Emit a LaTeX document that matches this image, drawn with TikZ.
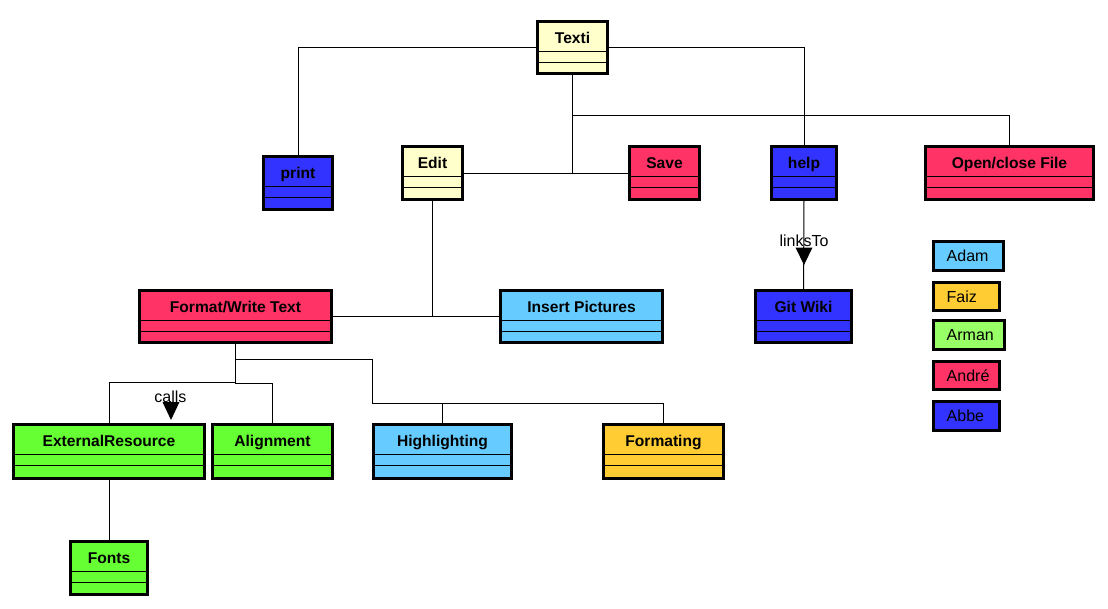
\documentclass[tikz,border=0pt]{standalone}
\usepackage{fontspec}
\setmainfont{Liberation Sans}
\usetikzlibrary{calc}
\definecolor{cYellow}{HTML}{FFFFCC}
\definecolor{cBlue}{HTML}{3333FF}
\definecolor{cRed}{HTML}{FF3366}
\definecolor{cCyan}{HTML}{66CCFF}
\definecolor{cGreen}{HTML}{66FF33}
\definecolor{cLightGreen}{HTML}{99FF66}
\definecolor{cOrange}{HTML}{FFCC33}
\tikzset{
 clsbox/.style={draw=black, line width=3pt, rectangle, inner sep=0pt, outer sep=0pt},
 clstitle/.style={font=\fontsize{15.6}{18}\selectfont\bfseries, inner sep=0pt, anchor=base},
 comp/.style={line width=1.3pt},
 conn/.style={line width=1pt},
 legtext/.style={font=\fontsize{16}{19}\selectfont, inner sep=0pt, anchor=base west},
 lbl/.style={font=\fontsize{16}{19}\selectfont, inner sep=0pt},
}
% name, x1, y1, x2, y2, colour, title
\newcommand\umlclass[7]{%
  \node[clsbox, fill=#6, minimum width=#4pt-#2pt-3pt, minimum height=#5pt-#3pt-3pt]
    (#1) at ({(#2+#4)/2},{(#3+#5)/2}) {};
  \node[clstitle] (#1-title) at ([yshift=-22pt]#1.north) {#7};
  \draw[comp] ([yshift=-30pt]#1.north west) -- ([yshift=-30pt]#1.north east);
  \draw[comp] ([yshift=-41pt]#1.north west) -- ([yshift=-41pt]#1.north east);
}
\newcommand\legendbox[7]{%
  \node[clsbox, fill=#6, minimum width=#4pt-#2pt-3pt, minimum height=#5pt-#3pt-3pt]
    (#1) at ({(#2+#4)/2},{(#3+#5)/2}) {};
  \node[legtext] (#1-text) at ([xshift=13pt,yshift=-5.5pt]#1.west) {#7};
}
\begin{document}
\begin{tikzpicture}[x=1pt,y=-1pt]
\useasboundingbox (0,0) rectangle (1108,608);
\fill[white] (0,0) rectangle (1108,608);

\umlclass{texti}{536}{20}{609}{75}{cYellow}{Texti}
\umlclass{print}{262}{155}{334}{211}{cBlue}{print}
\umlclass{edit}{401}{145}{464}{201}{cYellow}{Edit}
\umlclass{save}{628}{145}{701}{201}{cRed}{Save}
\umlclass{help}{770}{145}{838}{201}{cBlue}{help}
\umlclass{openclose}{924}{145}{1095}{201}{cRed}{Open/close File}
\umlclass{format}{138}{289}{333}{344}{cRed}{Format/Write Text}
\umlclass{insert}{499}{289}{664}{344}{cCyan}{Insert Pictures}
\umlclass{gitwiki}{754}{289}{853}{344}{cBlue}{Git Wiki}
\umlclass{extres}{12}{423}{206}{480}{cGreen}{ExternalResource}
\umlclass{align}{211}{423}{334}{480}{cGreen}{Alignment}
\umlclass{highlight}{372}{423}{513}{480}{cCyan}{Highlighting}
\umlclass{formating}{602}{423}{725}{480}{cOrange}{Formating}
\umlclass{fonts}{69}{540}{149}{596}{cGreen}{Fonts}

\legendbox{adam}{932}{240}{1005}{272}{cCyan}{Adam}
\legendbox{faiz}{932}{281}{1001}{312}{cOrange}{Faiz}
\legendbox{arman}{932}{319}{1006}{351}{cLightGreen}{Arman}
\legendbox{andre}{932}{360}{1001}{391}{cRed}{André}
\legendbox{abbe}{932}{400}{1001}{432}{cBlue}{Abbe}

% connectors
\draw[conn] (texti.west) -| (print.north);
\draw[conn] (texti.east) -| (help.north);
\draw[conn] (texti.south) |- ($(openclose.north)+(0,-31.5)$) -- (openclose.north);
\draw[conn] (edit.east) -- (save.west);
\draw[conn] (texti.south) -- (texti.south |- edit.east);

\draw[conn] (help.south) -- (gitwiki.north);
\coordinate (linkstip) at ($(help.south)+(0,65.5)$);
\fill ($(linkstip)+(-8.5,-17.5)$) -- ($(linkstip)+(8.5,-17.5)$) -- (linkstip) -- cycle;
\node[lbl] (linksto) at ($(help.south)+(0,41.5)$) {linksTo};

\draw[conn] (format.east) -- (insert.west);
\draw[conn] (edit.south) -- (edit.south |- format.east);

\coordinate (j1) at (235.5,359);
\coordinate (j2) at (372,403);
\coordinate (j3) at (235.5,382);
\coordinate (j4) at (235.5,383.5);
\draw[conn] (format.south) -- (j1) -| (j2) -| (formating.north);
\draw[conn] (highlight.north) -- (highlight.north |- j2);
\draw[conn] (j1) -- (j4);
\draw[conn] (j3) -| (extres.north);
\draw[conn] (j4) -| (align.north);

\coordinate (callstip) at (171,420);
\fill ($(callstip)+(-8.5,-18)$) -- ($(callstip)+(8.5,-18)$) -- (callstip) -- cycle;
\node[lbl] (calls) at (170.5,397) {calls};

\draw[conn] (extres.south) -- (fonts.north);
\end{tikzpicture}
\end{document}
